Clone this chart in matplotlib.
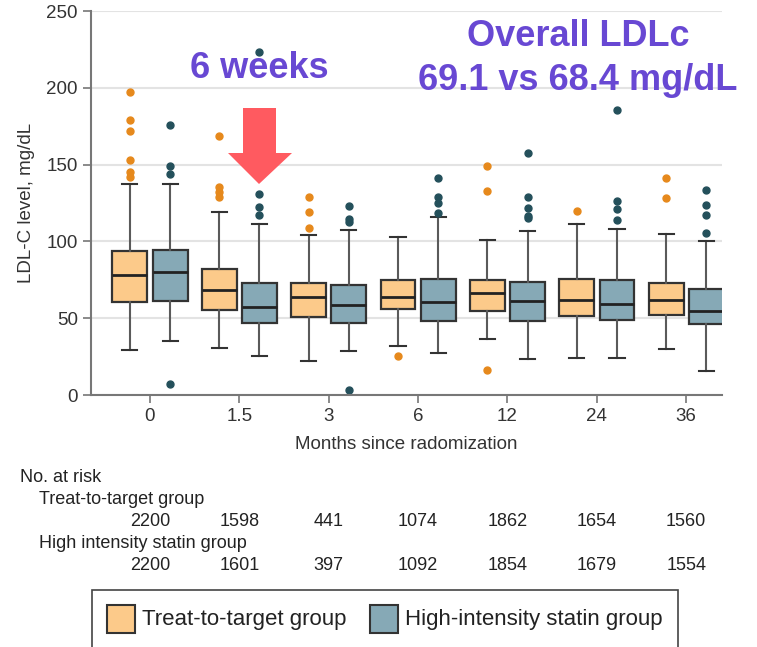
import matplotlib
matplotlib.use("Agg")
import matplotlib.pyplot as plt
from matplotlib.patches import Rectangle, Polygon

# ---------------- data ----------------
months = ["0", "1.5", "3", "6", "12", "24", "36"]

t2t_q1 = [60.3, 55.1, 51.0, 55.8, 54.5, 51.4, 51.9]
t2t_med = [78.3, 68.4, 64.0, 64.0, 66.2, 62.1, 61.6]
t2t_q3 = [93.7, 82.2, 73.1, 75.1, 75.1, 75.3, 73.1]
t2t_lo = [29.1, 30.4, 21.9, 32.1, 36.2, 23.9, 30.2]
t2t_hi = [137.4, 119.1, 104.2, 102.9, 101.1, 111.1, 105.0]
t2t_out = [[197, 179, 172, 153, 145, 142],
           [168.6, 135.6, 132.4, 129],
           [129, 119.4, 109],
           [25.4],
           [149.1, 132.8, 16],
           [120],
           [141.5, 128.5]]

his_q1 = [61.4, 47.1, 47.1, 48.4, 48.2, 48.8, 46.4]
his_med = [80.0, 57.3, 58.6, 60.3, 61.0, 59.5, 54.9]
his_q3 = [94.4, 73.1, 71.6, 75.7, 73.3, 75.1, 69.0]
his_lo = [35.4, 25.4, 28.4, 27.1, 23.2, 23.9, 15.4]
his_hi = [137.4, 111.3, 107.4, 115.9, 106.8, 107.9, 100.0]
his_out = [[175.5, 149.3, 143.7, 7.4],
           [223, 130.7, 122.2, 117.4],
           [123.2, 114.4, 112.8, 3],
           [141.3, 128.9, 124.8, 118.7],
           [157.8, 128.9, 121.7, 116.7, 115],
           [185.5, 126.3, 120.9, 114.2],
           [133.5, 123.7, 117, 105.7]]

risk_t2t = [2200, 1598, 441, 1074, 1862, 1654, 1560]
risk_his = [2200, 1601, 397, 1092, 1854, 1679, 1554]

group_names = ["Treat-to-target group", "High-intensity statin group"]
risk_names = ["Treat-to-target group", "High intensity statin group"]

# ---------------- style ----------------
plt.rcParams['font.family'] = ['Liberation Sans', 'DejaVu Sans']

W, H = 757, 647
fig = plt.figure(figsize=(W / 100, H / 100), dpi=100)

def fx(x):
    return x / W

def fy(y):
    return 1 - y / H

ax = fig.add_axes([fx(91), fy(395), fx(722) - fx(91), fy(11) - fy(395)])

orange_fill = "#FCCA8A"
orange_pt = "#E6891C"
blue_fill = "#86A9B6"
blue_pt = "#24505B"
edge = "#333333"
wcol = "#5a5a5a"

def stats(q1, med, q3, lo, hi, out):
    return [dict(q1=a, med=b, q3=c, whislo=d, whishi=e, fliers=f)
            for a, b, c, d, e, f in zip(q1, med, q3, lo, hi, out)]

pos = list(range(len(months)))
off = 0.225
bw = 0.39
for st, shift, fill, pc in [
        (stats(t2t_q1, t2t_med, t2t_q3, t2t_lo, t2t_hi, t2t_out), -off, orange_fill, orange_pt),
        (stats(his_q1, his_med, his_q3, his_lo, his_hi, his_out), off, blue_fill, blue_pt)]:
    ax.bxp(st, positions=[p + shift for p in pos], widths=bw, patch_artist=True,
           showfliers=True, capwidths=0.17,
           boxprops=dict(facecolor=fill, edgecolor=edge, linewidth=1.6),
           medianprops=dict(color="#222222", linewidth=2.0),
           whiskerprops=dict(color=wcol, linewidth=1.5),
           capprops=dict(color="#333333", linewidth=1.5),
           flierprops=dict(marker="o", markerfacecolor=pc, markeredgecolor=pc,
                           markersize=5))

ax.set_xlim(-0.66, 6.4)
ax.set_ylim(0, 250)
ax.set_yticks([0, 50, 100, 150, 200, 250])
ax.set_xticks(pos)
ax.set_xticklabels(months)
ax.yaxis.grid(True, color="#e3e3e3", linewidth=1.5)
ax.set_axisbelow(True)
for s in ["top", "right"]:
    ax.spines[s].set_visible(False)
for s in ["left", "bottom"]:
    ax.spines[s].set_color("#777777")
    ax.spines[s].set_linewidth(1.5)
ax.tick_params(axis="both", colors="#777777", length=6, width=1.2,
               labelsize=13.5, labelcolor="#333333")
ax.set_ylabel("LDL-C level, mg/dL", fontsize=13.5, color="#333333", labelpad=8)
ax.set_xlabel("Months since radomization", fontsize=13.5, color="#333333", labelpad=8)

# ---------------- number at risk ----------------
tc = "#222222"
fs = 13
fig.text(fx(20), fy(478), "No. at risk", fontsize=fs, color=tc, va="center")
fig.text(fx(39), fy(500), risk_names[0], fontsize=fs, color=tc, va="center")
fig.text(fx(39), fy(544), risk_names[1], fontsize=fs, color=tc, va="center")
for i, (a, b) in enumerate(zip(risk_t2t, risk_his)):
    xd = ax.transData.transform((i, 0))[0]
    xf = fig.transFigure.inverted().transform((xd, 0))[0]
    fig.text(xf, fy(521), str(a), fontsize=fs, color=tc, ha="center", va="center")
    fig.text(xf, fy(565), str(b), fontsize=fs, color=tc, ha="center", va="center")

# ---------------- legend box ----------------
fig.patches.append(Rectangle((fx(92), fy(652)), fx(678) - fx(92), fy(590) - fy(652),
                             transform=fig.transFigure, facecolor="white",
                             edgecolor="#444444", linewidth=1.2))
for x0, fill, label in [(107, orange_fill, group_names[0]), (370, blue_fill, group_names[1])]:
    fig.patches.append(Rectangle((fx(x0), fy(633)), fx(x0 + 28) - fx(x0), fy(605) - fy(633),
                                 transform=fig.transFigure, facecolor=fill,
                                 edgecolor=edge, linewidth=1.5))
    fig.text(fx(x0 + 35), fy(619), label, fontsize=16, color=tc, va="center")

# ---------------- annotations ----------------
purple = "#6848D3"
fig.text(fx(259), fy(69), "6 weeks", fontsize=26, fontweight="bold", color=purple,
         ha="center", va="center")
fig.text(fx(578), fy(37), "Overall LDLc", fontsize=26, fontweight="bold", color=purple,
         ha="center", va="center")
fig.text(fx(578), fy(80), "69.1 vs 68.4 mg/dL", fontsize=26, fontweight="bold", color=purple,
         ha="center", va="center")

arrow_px = [(243, 108), (276, 108), (276, 153), (292, 153), (259, 184),
            (228, 153), (243, 153)]
fig.patches.append(Polygon([(fx(x), fy(y)) for x, y in arrow_px], closed=True,
                           transform=fig.transFigure, facecolor="#FF5A60",
                           edgecolor="none", zorder=10))

fig.savefig("out.png", dpi=100)
